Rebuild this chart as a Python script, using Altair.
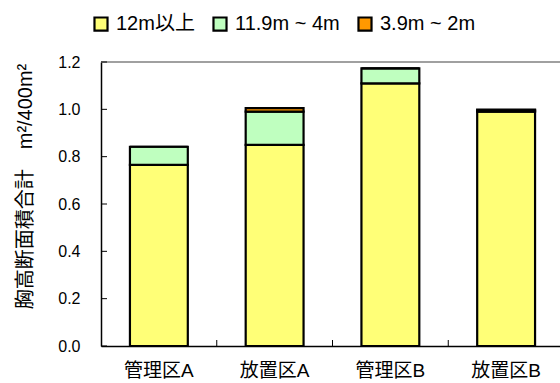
import altair as alt
import pandas as pd

sites = ["管理区A", "放置区A", "管理区B", "放置区B"]
classes = ["12m以上", "11.9m ~ 4m", "3.9m ~ 2m"]
v_12 = [0.765, 0.85, 1.11, 0.99]
v_4 = [0.077, 0.14, 0.063, 0.006]
v_2 = [0.0, 0.015, 0.0, 0.003]
colors = ["#FFFF77", "#BFFFBF", "#FF9900"]
y_ticks = [0.0, 0.2, 0.4, 0.6, 0.8, 1.0, 1.2]

rows = []
for i, s in enumerate(sites):
    for k, (c, vals) in enumerate(zip(classes, [v_12, v_4, v_2])):
        rows.append({"site": s, "cls": c, "val": vals[i], "ord": k})
df = pd.DataFrame(rows)

FONT = "Liberation Sans, Arial, Noto Sans CJK JP"
W, H = 459, 284

yscale = alt.Scale(domain=[0, 1.2], nice=False, zero=True)
xscale = alt.Scale(domain=sites, range=[0, 463], paddingInner=0, paddingOuter=0)

x = alt.X(
    "site:N",
    sort=sites,
    scale=xscale,
    axis=alt.Axis(
        title=None, labelAngle=0, ticks=False,
        domainColor="black", domainWidth=1.5,
        labelFont=FONT, labelFontSize=19, labelColor="black", labelPadding=15,
    ),
)

y = alt.Y(
    "val:Q", stack="zero", scale=yscale,
    axis=alt.Axis(
        values=y_ticks, format=".1f", grid=False, ticks=False,
        domainColor="black", domainWidth=1.5,
        labelFont=FONT, labelFontSize=16, labelColor="black", labelPadding=21,
        title="胸高断面積合計　m²/400m²", titleFont=FONT, titleFontSize=20,
        titleFontWeight="normal", titleColor="black",
        titleX=-76, titleY=124, titleAngle=270, titleAlign="center", titleBaseline="middle",
    ),
)

bars = alt.Chart(df).mark_bar(
    stroke="black", strokeWidth=2.2, width=alt.RelativeBandSize(0.5), opacity=1
).encode(
    x=x,
    y=y,
    color=alt.Color(
        "cls:N",
        scale=alt.Scale(domain=classes, range=colors),
        legend=alt.Legend(
            orient="none", legendX=-10, legendY=-48, direction="horizontal", title=None,
            symbolType="square", symbolSize=170, symbolStrokeColor="black",
            symbolStrokeWidth=2.2, symbolOpacity=1,
            labelFont=FONT, labelFontSize=20, labelColor="black",
            columnPadding=14, labelOffset=5,
        ),
    ),
    order=alt.Order("ord:Q"),
)

top_line = alt.Chart(pd.DataFrame({"v": [1.2]})).mark_rule(
    color="#808080", strokeWidth=1.5
).encode(y=alt.Y("v:Q", scale=yscale), x=alt.value(0), x2=alt.value(W))

y_tick_marks = alt.Chart(pd.DataFrame({"v": y_ticks})).mark_rule(
    color="black", strokeWidth=1
).encode(y=alt.Y("v:Q", scale=yscale), x=alt.value(0), x2=alt.value(6))

x_tick_marks = alt.Chart(pd.DataFrame({"site": sites[1:]})).mark_rule(
    color="black", strokeWidth=1
).encode(
    x=alt.X("site:N", sort=sites, scale=xscale, bandPosition=0),
    y=alt.value(H - 6), y2=alt.value(H),
)

chart = alt.layer(bars, top_line, y_tick_marks, x_tick_marks).properties(
    width=W, height=H,
    autosize=alt.AutoSizeParams(type="none"),
    padding={"left": 101, "top": 62, "right": 0, "bottom": 37},
).configure_view(stroke=None)

chart.save("out.html", embed_options={"renderer": "svg", "actions": False})
